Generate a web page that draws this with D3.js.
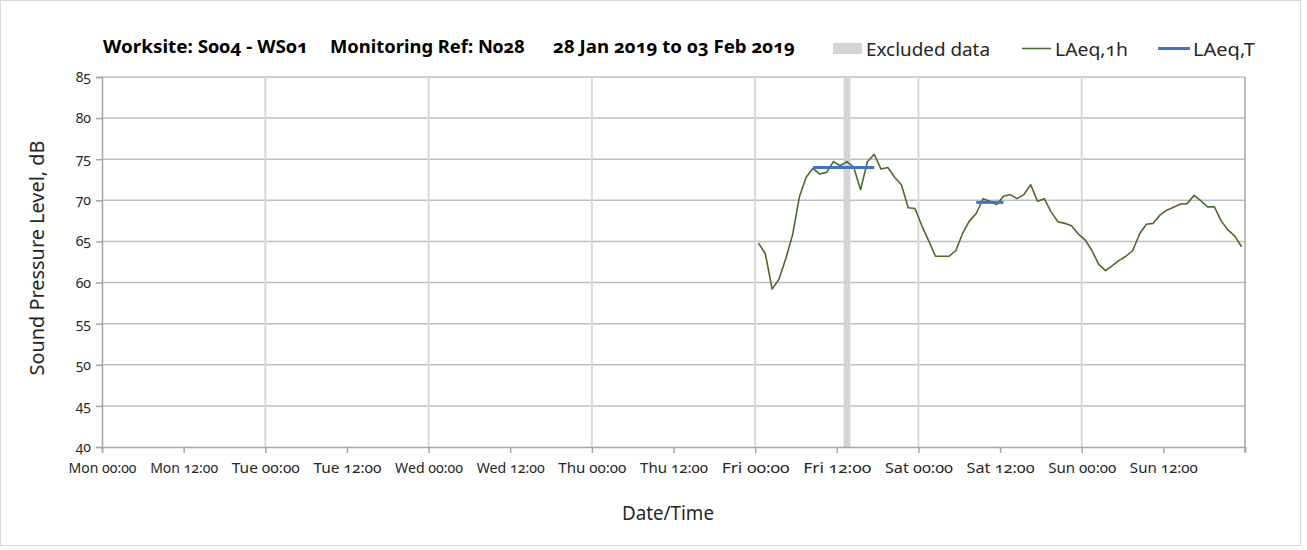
<!DOCTYPE html>
<html><head><meta charset="utf-8">
<script src="https://cdn.jsdelivr.net/npm/d3@7"></script>
<style>
body{margin:0;background:#fff;}
svg text{font-family:"Noto Sans","Open Sans",sans-serif;font-variant-numeric:oldstyle-nums;}
</style></head>
<body><svg id="c" width="1307" height="550"></svg>
<script>
// ---- data ----
const titleParts = ["Worksite: S004 - WS01","Monitoring Ref: N028","28 Jan 2019 to 03 Feb 2019"];
const startDate = new Date(2019,0,28,0,0);   // Mon 00:00
const endDate = new Date(2019,1,4,0,0);      // next Mon 00:00
const yTicks = [40,45,50,55,60,65,70,75,80,85];
const xTickLabels = ["Mon 00:00","Mon 12:00","Tue 00:00","Tue 12:00","Wed 00:00","Wed 12:00","Thu 00:00","Thu 12:00","Fri 00:00","Fri 12:00","Sat 00:00","Sat 12:00","Sun 00:00","Sun 12:00"];
// LAeq,1h hourly values starting Fri 01 Feb 2019 00:30
const laeq1hStart = new Date(2019,1,1,0,30);
const laeq1h = [64.8,63.5,59.2,60.4,62.9,65.8,70.4,72.8,73.9,73.2,73.4,74.7,74.2,74.7,74.0,71.3,74.7,75.6,73.8,74.0,72.8,71.9,69.1,69.0,
  66.9,65.1,63.2,63.2,63.2,63.9,66.0,67.5,68.4,70.2,69.9,69.5,70.5,70.7,70.2,70.7,71.9,69.9,70.2,68.6,67.4,67.2,66.9,65.9,
  65.2,63.9,62.2,61.45,62.05,62.7,63.2,63.9,65.9,67.1,67.2,68.2,68.8,69.15,69.55,69.6,70.6,69.95,69.2,69.2,67.5,66.4,65.65,64.35];
// LAeq,T periods
const laeqT = [
  {from:new Date(2019,1,1,8,30), to:new Date(2019,1,1,17,30), value:74.0},
  {from:new Date(2019,1,2,8,30), to:new Date(2019,1,2,12,30), value:69.75}
];
// excluded period
const excluded = [{from:new Date(2019,1,1,13,0), to:new Date(2019,1,1,14,0)}];

// ---- chart ----
const svg = d3.select("#c");
const m = {l:102, r:1245, t:77, b:447};
const x = d3.scaleTime().domain([startDate,endDate]).range([m.l,m.r]);
const y = d3.scaleLinear().domain([40,85]).range([m.b,m.t]);

// chart area border
svg.append("rect").attr("x",0.5).attr("y",0.5).attr("width",1300).attr("height",545)
  .attr("fill","none").attr("stroke","#d9d9d9");

// horizontal gridlines
svg.append("g").selectAll("line").data(yTicks.slice(1)).join("line")
  .attr("x1",m.l).attr("x2",m.r).attr("y1",d=>y(d)).attr("y2",d=>y(d))
  .attr("stroke","#bfbfbf").attr("stroke-width",1.5);

// vertical day gridlines
const days = d3.timeDay.range(d3.timeDay.offset(startDate,1), endDate);
svg.append("g").selectAll("line").data(days).join("line")
  .attr("x1",d=>x(d)).attr("x2",d=>x(d)).attr("y1",m.t).attr("y2",m.b)
  .attr("stroke","#d9d9d9").attr("stroke-width",2);

// excluded band
svg.append("g").selectAll("rect").data(excluded).join("rect")
  .attr("x",d=>x(d.from)).attr("width",d=>x(d.to)-x(d.from))
  .attr("y",m.t).attr("height",m.b-m.t).attr("fill","#d4d4d4");

// y axis
const yAxis = d3.axisLeft(y).tickValues(yTicks).tickSize(6).tickPadding(5).tickFormat(d3.format("d"));
const gy = svg.append("g").attr("transform",`translate(${m.l},0)`).call(yAxis);
gy.select(".domain").attr("stroke","#a6a6a6").attr("stroke-width",1.5);
gy.selectAll(".tick line").attr("stroke","#a6a6a6").attr("stroke-width",1.5);
gy.selectAll("text").attr("font-size",14).attr("fill","#262626");

// right border line of plot
svg.append("line").attr("x1",m.r).attr("x2",m.r).attr("y1",m.t).attr("y2",m.b+5)
  .attr("stroke","#a6a6a6").attr("stroke-width",1.5);

// x axis
const xTickDates = d3.timeHour.every(12).range(startDate, endDate);
const xAxis = d3.axisBottom(x).tickValues(xTickDates.concat([endDate])).tickSize(6).tickPadding(10)
  .tickFormat((d,i)=> xTickLabels[i] || "");
const gx = svg.append("g").attr("transform",`translate(0,${m.b})`).call(xAxis);
gx.select(".domain").attr("stroke","#a6a6a6").attr("stroke-width",1.5);
gx.selectAll(".tick line").attr("stroke","#a6a6a6").attr("stroke-width",1.5);
gx.selectAll("text").attr("font-size",14.5).attr("fill","#262626")
  .each(function(d,i){ if(xTickLabels[i]) d3.select(this).attr("textLength",68).attr("lengthAdjust","spacingAndGlyphs"); });

// LAeq,1h line
const pts = laeq1h.map((v,i)=>({t:d3.timeHour.offset(laeq1hStart,i), v}));
svg.append("path").datum(pts)
  .attr("d", d3.line().x(d=>x(d.t)).y(d=>y(d.v)))
  .attr("fill","none").attr("stroke","#4a6b2e").attr("stroke-width",1.6).attr("stroke-linejoin","round");

// LAeq,T lines
svg.append("g").selectAll("line").data(laeqT).join("line")
  .attr("x1",d=>x(d.from)).attr("x2",d=>x(d.to)).attr("y1",d=>y(d.value)).attr("y2",d=>y(d.value))
  .attr("stroke","#4472c4").attr("stroke-width",3);

// title
const titleX = [103,330,553], titleW = [205,195,242];
svg.append("g").selectAll("text").data(titleParts).join("text")
  .attr("x",(d,i)=>titleX[i]).attr("y",53).attr("font-size",17.5).attr("font-weight","bold")
  .attr("fill","#000").attr("textLength",(d,i)=>titleW[i]).attr("lengthAdjust","spacingAndGlyphs").text(d=>d);

// legend
const lg = svg.append("g");
lg.append("rect").attr("x",833).attr("y",43).attr("width",29).attr("height",11).attr("fill","#d4d4d4");
lg.append("text").attr("x",866).attr("y",55.5).attr("font-size",18.5).attr("fill","#262626")
  .attr("textLength",124).attr("lengthAdjust","spacingAndGlyphs").text("Excluded data");
lg.append("line").attr("x1",1022).attr("x2",1051).attr("y1",48.5).attr("y2",48.5).attr("stroke","#4a6b2e").attr("stroke-width",1.6);
lg.append("text").attr("x",1055).attr("y",55.5).attr("font-size",18.5).attr("fill","#262626")
  .attr("textLength",73).attr("lengthAdjust","spacingAndGlyphs").text("LAeq,1h");
lg.append("line").attr("x1",1158).attr("x2",1190).attr("y1",48.5).attr("y2",48.5).attr("stroke","#4472c4").attr("stroke-width",3);
lg.append("text").attr("x",1193).attr("y",55.5).attr("font-size",18.5).attr("fill","#262626")
  .attr("textLength",62).attr("lengthAdjust","spacingAndGlyphs").text("LAeq,T");

// axis titles
svg.append("text").attr("transform","translate(44,258) rotate(-90)").attr("text-anchor","middle")
  .attr("font-size",19).attr("fill","#262626").attr("textLength",235).attr("lengthAdjust","spacingAndGlyphs")
  .text("Sound Pressure Level, dB");
svg.append("text").attr("x",668).attr("y",520).attr("text-anchor","middle")
  .attr("font-size",19).attr("fill","#262626").attr("textLength",92).attr("lengthAdjust","spacingAndGlyphs")
  .text("Date/Time");
</script></body></html>
